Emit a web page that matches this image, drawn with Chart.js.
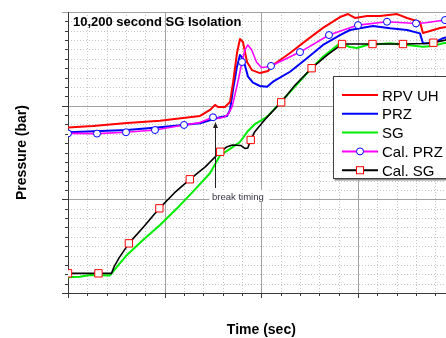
<!DOCTYPE html>
<html>
<head>
<meta charset="utf-8">
<script src="https://cdn.jsdelivr.net/npm/chart.js@4.4.0/dist/chart.umd.min.js"></script>
<style>
  html, body { margin: 0; padding: 0; background: #fff; }
  #wrap { width: 446px; height: 338px; overflow: hidden; position: relative; }
  canvas { display: block; }
</style>
</head>
<body>
<div id="wrap"><canvas id="chart" width="470" height="338"></canvas></div>
<script>
// axis ranges (s / bar)
const X_MIN = 0, X_MAX = 4000, X_MAJOR = 1000, X_MINOR = 200;
const Y_MIN = 0, Y_MAX = 150, Y_MAJOR = 50, Y_MINOR = 5;

const BREAK_TIME = 1521;
const BREAK_TOP = 91.3;
const BREAK_BOTTOM = 56;

// RPV upper head
const timeRpv = [0, 259, 610, 952, 1190, 1366, 1469, 1521, 1552, 1624, 1676, 1707, 1748, 1779, 1810, 1852, 1903, 1986,
  2069, 2121, 2297, 2472, 2638, 2814, 2897, 2969, 3093, 3228, 3404, 3507, 3641, 3672, 3745, 3848, 3910, 4003];
const rpvUh = [88.4, 89.2, 90.7, 92.0, 93.4, 94.5, 97.7, 100.4, 99.3, 99.3, 102.0, 112.1, 128.1, 135.6, 134.0, 123.3, 119.0, 117.4,
  118.5, 121.7, 128.1, 135.1, 141.5, 147.3, 148.9, 146.8, 147.9, 147.9, 148.9, 146.8, 144.7, 138.8, 139.9, 141.5, 142.0, 143.1];

// pressurizer
const timePrz = [0, 610, 952, 1366, 1500, 1572, 1645, 1676, 1707, 1748, 1779, 1810, 1862, 1914, 1986, 2059,
  2121, 2297, 2472, 2638, 2814, 2917, 3021, 3155, 3331, 3507, 3641, 3672, 3776, 3879, 4003];
const prz = [85.8, 87.0, 88.5, 90.6, 92.7, 93.8, 94.5, 97.7, 108.4, 120.8, 127.0, 125.4, 115.5, 112.3, 110.5, 110.1,
  112.8, 118.1, 125.3, 132.4, 137.7, 140.4, 141.3, 142.5, 141.3, 140.4, 138.6, 133.3, 133.3, 136.0, 137.7];

// steam generator
const timeSg = [0, 124, 228, 434, 466, 538, 610, 776, 952, 1128, 1293, 1469, 1572, 1676, 1779, 1862, 1934, 2059,
  2193, 2472, 2638, 2814, 2917, 2990, 3093, 3331, 3507, 3672, 3776, 3879, 4003];
const sg = [8.4, 8.7, 9.6, 9.4, 11.4, 15.9, 20.3, 28.3, 36.3, 45.2, 54.1, 63.9, 73.4, 76.9, 80.6, 86.5, 90.2, 94.0,
  101.4, 117.3, 126.1, 133.3, 131.3, 130.8, 132.4, 133.3, 132.4, 131.5, 131.9, 133.3, 134.0];

// calculated pressurizer
const timeCalPrz = [0, 300, 600, 900, 1200, 1350, 1500, 1560, 1620, 1660, 1700, 1750, 1800, 1830, 1860, 1900, 1950,
  2000, 2050, 2100, 2400, 2700, 3000, 3300, 3600, 3700, 3900, 4000];
const calPrz = [85.2, 85.1, 85.8, 87.0, 89.7, 90.8, 93.8, 93.3, 94.0, 95.6, 99.8, 111.0, 123.3, 129.7, 132.4, 129.7, 123.3,
  120.4, 120.6, 121.2, 128.6, 137.7, 143.0, 144.8, 143.9, 144.3, 145.7, 146.3];

// calculated steam generator
const timeCalSg = [0, 315, 450, 480, 530, 630, 790, 945, 1100, 1260, 1420, 1575, 1640, 1700, 1790, 1830, 1860, 1890,
  1930, 1990, 2060, 2205, 2350, 2520, 2680, 2835, 3150, 3465, 3700, 3780, 3900, 4000];
const calSg = [10.5, 10.5, 10.5, 14.4, 18.9, 26.5, 35.8, 45.2, 53.4, 60.7, 67.3, 75.4, 77.9, 79.0, 78.7, 77.2, 77.4, 81.7,
  85.9, 89.7, 93.9, 101.8, 111.0, 120.0, 127.0, 132.9, 132.9, 132.9, 133.2, 133.6, 135.0, 136.3];

// symbols are plotted every N seconds on the calculated curves
const PRZ_MARK_STEP = 300;
const SG_MARK_STEP = 315;

const pts = (xs, ys) => xs.map((x, i) => ({ x, y: ys[i] }));
const markEvery = (step, r) => c => (c.raw && c.raw.x % step === 0 ? r : 0);

const FONT = '"Liberation Sans", Arial, sans-serif';

const frame = {
  id: 'frame',
  beforeDatasetsDraw(chart) {
    const { ctx, chartArea: a, scales: { x, y } } = chart;
    const px = v => Math.round(x.getPixelForValue(v)) + 0.5;
    const py = v => Math.round(y.getPixelForValue(v)) + 0.5;
    const seg = (x1, y1, x2, y2) => { ctx.beginPath(); ctx.moveTo(x1, y1); ctx.lineTo(x2, y2); ctx.stroke(); };
    ctx.save();
    ctx.lineWidth = 1;
    // dotted minor grid
    ctx.strokeStyle = '#c6c6c6';
    ctx.setLineDash([1, 2]);
    for (let t = X_MIN + X_MINOR; t < X_MAX; t += X_MINOR) if (t % X_MAJOR) seg(px(t), a.top, px(t), a.bottom);
    for (let p = Y_MIN + Y_MINOR; p < Y_MAX; p += Y_MINOR) if (p % Y_MAJOR) seg(a.left, py(p), a.right, py(p));
    // major grid
    ctx.setLineDash([]);
    ctx.strokeStyle = '#a2a2a2';
    for (let t = X_MIN + X_MAJOR; t <= X_MAX; t += X_MAJOR) seg(px(t), a.top, px(t), a.bottom);
    for (let p = Y_MIN + Y_MAJOR; p <= Y_MAX; p += Y_MAJOR) seg(a.left - 6, py(p), a.right, py(p));
    // axes + ticks
    ctx.strokeStyle = '#3a3a3a';
    seg(px(X_MIN), a.top, px(X_MIN), a.bottom + 1);
    seg(a.left - 6, py(Y_MIN), a.right, py(Y_MIN));
    for (let p = Y_MIN; p < Y_MAX; p += Y_MINOR) seg(a.left - (p % Y_MAJOR ? 3 : 6), py(p), a.left, py(p));
    for (let t = X_MIN; t <= X_MAX; t += X_MINOR) seg(px(t), a.bottom, px(t), a.bottom + (t % X_MAJOR ? 3 : 5));
    ctx.restore();
  },
  afterDatasetsDraw(chart) {
    const { ctx, chartArea: a, scales: { x, y } } = chart;
    ctx.save();

    // break timing arrow
    const bx = Math.round(x.getPixelForValue(BREAK_TIME)) + 0.5;
    const top = y.getPixelForValue(BREAK_TOP);
    const bot = y.getPixelForValue(BREAK_BOTTOM);
    ctx.strokeStyle = '#222';
    ctx.fillStyle = '#222';
    ctx.lineWidth = 1;
    ctx.beginPath(); ctx.moveTo(bx, top + 5); ctx.lineTo(bx, bot); ctx.stroke();
    ctx.beginPath(); ctx.moveTo(bx, top); ctx.lineTo(bx - 2.5, top + 6); ctx.lineTo(bx + 2.5, top + 6); ctx.closePath(); ctx.fill();

    ctx.font = '9.5px ' + FONT;
    const label = 'break timing';
    const lw = ctx.measureText(label).width;
    ctx.fillStyle = '#fff';
    ctx.fillRect(bx - 6, bot + 2, lw + 8, 12);
    ctx.fillStyle = '#333344';
    ctx.textBaseline = 'alphabetic';
    ctx.fillText(label, bx - 3.5, bot + 11.5);

    // plot title
    ctx.fillStyle = '#000';
    ctx.font = 'bold 13px ' + FONT;
    ctx.fillText('10,200 second SG Isolation', a.left + 5, 26);

    // legend
    const lx = 333.5, ly = 76.5, lwid = 140, lh = 102;
    ctx.fillStyle = '#8a8a8a';
    ctx.fillRect(lx + 1, ly + 1, lwid, lh + 1);
    ctx.fillStyle = '#fff';
    ctx.fillRect(lx, ly, lwid, lh);
    ctx.strokeStyle = '#404040';
    ctx.strokeRect(lx, ly, lwid, lh);
    ctx.font = '15px ' + FONT;
    chart.data.datasets.forEach((ds, i) => {
      const ry = 95 + i * 18.8;
      ctx.strokeStyle = ds.borderColor;
      ctx.lineWidth = 2;
      ctx.beginPath(); ctx.moveTo(342, ry); ctx.lineTo(378, ry); ctx.stroke();
      if (ds.pointStyle === 'circle') {
        ctx.lineWidth = 1;
        ctx.fillStyle = '#fff';
        ctx.strokeStyle = ds.pointBorderColor;
        ctx.beginPath(); ctx.arc(360, ry, 3.5, 0, Math.PI * 2); ctx.fill(); ctx.stroke();
      } else if (ds.pointStyle === 'rect') {
        ctx.lineWidth = 1;
        ctx.fillStyle = '#fff';
        ctx.strokeStyle = ds.pointBorderColor;
        ctx.fillRect(356.5, ry - 3.5, 7, 7); ctx.strokeRect(356.5, ry - 3.5, 7, 7);
      }
      ctx.fillStyle = '#000';
      ctx.fillText(ds.label, 382, ry + 5.5);
    });

    // axis titles
    ctx.font = 'bold 14px ' + FONT;
    ctx.textAlign = 'center';
    ctx.fillText('Time (sec)', (a.left + a.right) / 2, 334);
    ctx.translate(25.5, (a.top + a.bottom) / 2);
    ctx.rotate(-Math.PI / 2);
    ctx.fillText('Pressure (bar)', 0, 0);
    ctx.restore();
  }
};

const lineBase = { pointRadius: 0, borderJoinStyle: 'round', tension: 0 };

new Chart(document.getElementById('chart'), {
  type: 'line',
  data: {
    datasets: [
      { ...lineBase, label: 'RPV UH', data: pts(timeRpv, rpvUh), borderColor: '#ff0000', borderWidth: 2, order: 2 },
      { ...lineBase, label: 'PRZ', data: pts(timePrz, prz), borderColor: '#0000ff', borderWidth: 2, order: 2 },
      { ...lineBase, label: 'SG', data: pts(timeSg, sg), borderColor: '#00ee00', borderWidth: 2, order: 2 },
      { ...lineBase, label: 'Cal. PRZ', data: pts(timeCalPrz, calPrz), borderColor: '#ff00ff', borderWidth: 1.6,
        pointStyle: 'circle', pointRadius: markEvery(PRZ_MARK_STEP, 3.5), pointBorderColor: '#0000ff',
        pointBackgroundColor: '#ffffff', pointBorderWidth: 1, order: 1 },
      { ...lineBase, label: 'Cal. SG', data: pts(timeCalSg, calSg), borderColor: '#000000', borderWidth: 1.6,
        pointStyle: 'rect', pointRadius: markEvery(SG_MARK_STEP, 5.2), pointBorderColor: '#ff0000',
        pointBackgroundColor: '#ffffff', pointBorderWidth: 1, order: 0 }
    ]
  },
  options: {
    responsive: false,
    devicePixelRatio: 1,
    animation: false,
    events: [],
    layout: { padding: { left: 68, top: 12, right: 470 - 454.67, bottom: 45 } },
    scales: {
      x: { type: 'linear', min: X_MIN, max: X_MAX, display: false },
      y: { type: 'linear', min: Y_MIN, max: Y_MAX, display: false }
    },
    plugins: { legend: { display: false }, tooltip: { enabled: false } }
  },
  plugins: [frame]
});
</script>
</body>
</html>
